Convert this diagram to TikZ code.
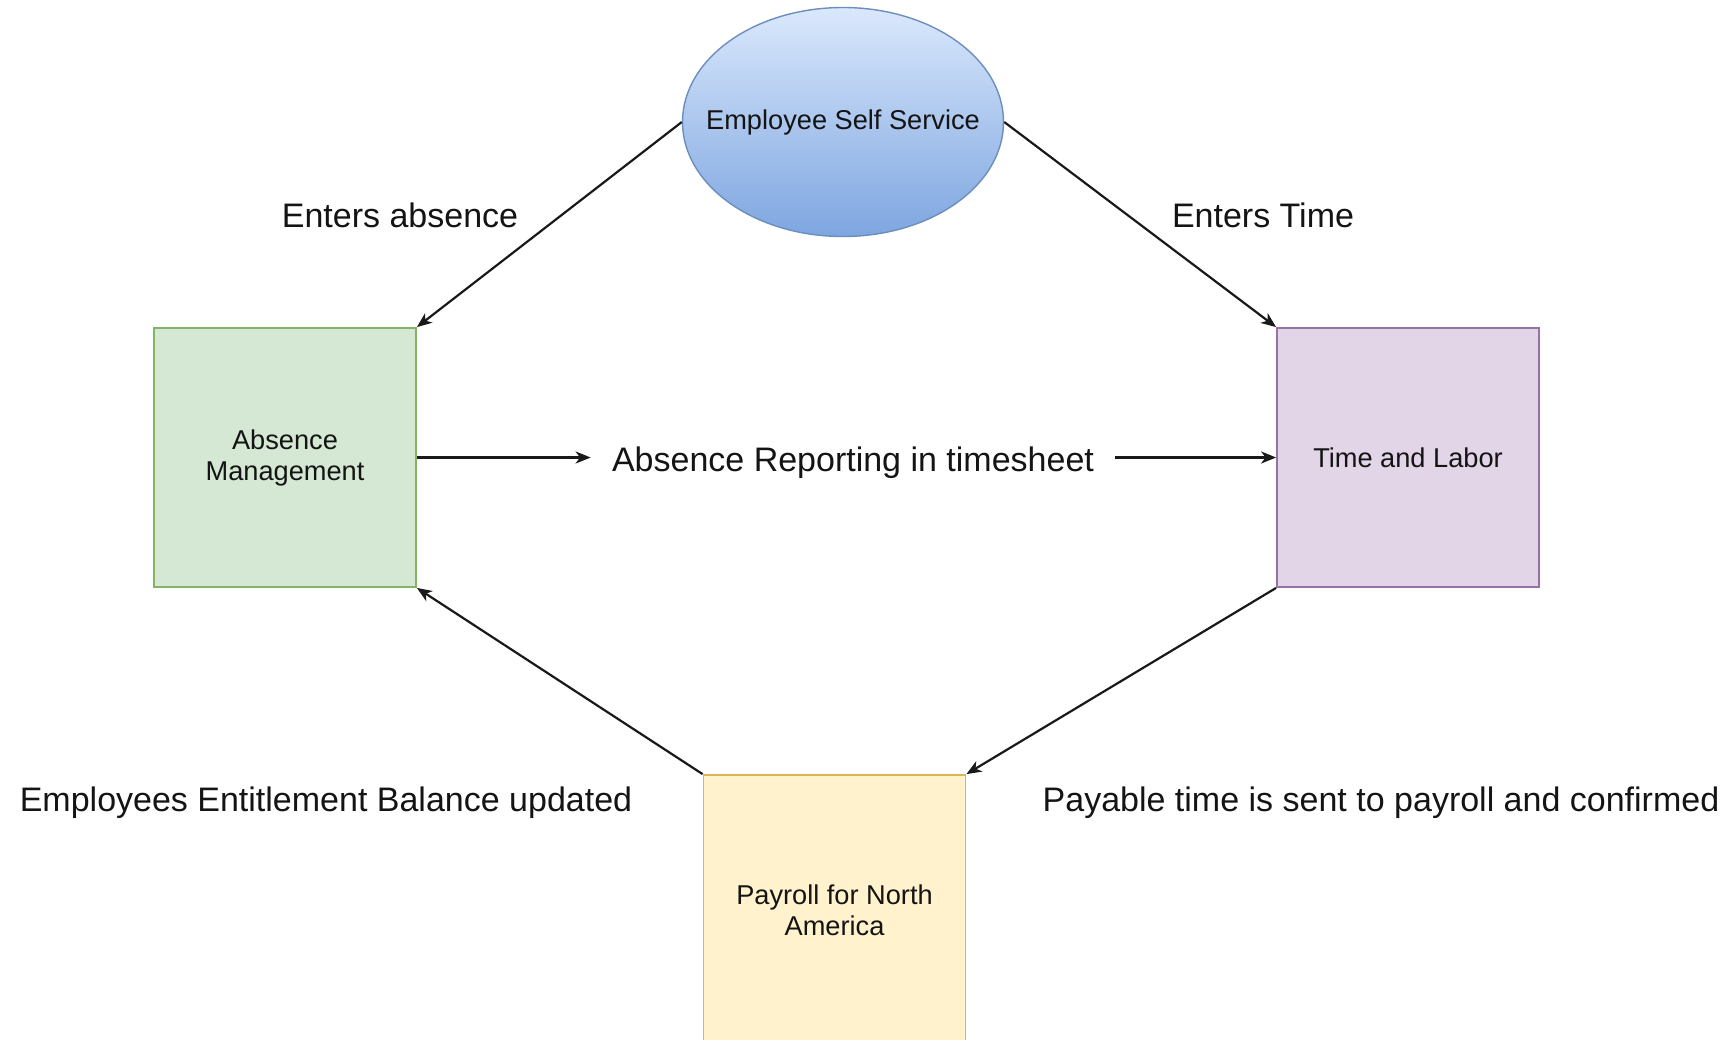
\documentclass[tikz,border=0pt]{standalone}
\usepackage{fontspec}
\setmainfont{Liberation Sans}
\usetikzlibrary{arrows.meta,positioning,shapes.geometric}
\definecolor{amfill}{RGB}{213,232,212}
\definecolor{amline}{RGB}{130,179,102}
\definecolor{tlfill}{RGB}{225,213,231}
\definecolor{tlline}{RGB}{150,115,166}
\definecolor{pnfill}{RGB}{255,242,204}
\definecolor{pnline}{RGB}{214,182,86}
\definecolor{esstop}{RGB}{218,232,252}
\definecolor{essbot}{RGB}{126,166,224}
\definecolor{essline}{RGB}{108,142,191}
\definecolor{txt}{RGB}{20,20,20}

\begin{document}
\begin{tikzpicture}[x=0.5pt, y=-0.5pt,
    modbox/.style={draw, line width=0.9pt, minimum width=131pt, minimum height=129.5pt,
                   align=center, inner sep=0pt, text=txt,
                   font=\fontsize{13.6}{15.5}\selectfont},
    selfell/.style={ellipse, draw=essline, line width=0.7pt, top color=esstop, bottom color=essbot,
                    minimum width=160.5pt, minimum height=114.5pt, inner xsep=-12pt, inner ysep=0pt,
                    text=txt, font=\fontsize{13.6}{15.5}\selectfont},
    lbl/.style={font=\fontsize{17}{20}\selectfont, text=txt, inner sep=0pt},
    flow/.style={-{Stealth[length=7.5pt,width=6pt,inset=2.2pt]}, line width=1.1pt, black!90}]
\useasboundingbox (0,0) rectangle (1732,1039);
% Top: self service entry point
\node[selfell] (ess) at (843,122) {Employee Self Service};
% Modules
\node[modbox, draw=amline, fill=amfill] (am) at (285,457.5) {Absence\\Management};
\node[modbox, draw=tlline, fill=tlfill] (tl) at (1408,457.5) {Time and Labor};
\node[modbox, draw=pnline, fill=pnfill, minimum height=135pt] (pn) at (834.5,910) {Payroll for North\\America};
% Labels
\node[lbl, anchor=base] (entabs) at (400,227) {Enters absence};
\node[lbl, anchor=base] (enttime) at (1263,227) {Enters Time};
\node[lbl, inner xsep=10.5pt] (rep) at (853,463) {Absence Reporting in timesheet};
\node[lbl, anchor=base] (bal) at (326,811) {Employees Entitlement Balance updated};
\node[lbl, anchor=base] (pay) at (1381,811) {Payable time is sent to payroll and confirmed};
% Flows
\draw[flow] (ess.west) -- (am.north east);
\draw[flow] (ess.east) -- (tl.north west);
\draw[flow] (am.east) -- (am.east -| rep.west);
\draw[flow] (tl.west -| rep.east) -- (tl.west);
\draw[flow] (tl.south west) -- (pn.north east);
\draw[flow] (pn.north west) -- (am.south east);
\end{tikzpicture}
\end{document}
